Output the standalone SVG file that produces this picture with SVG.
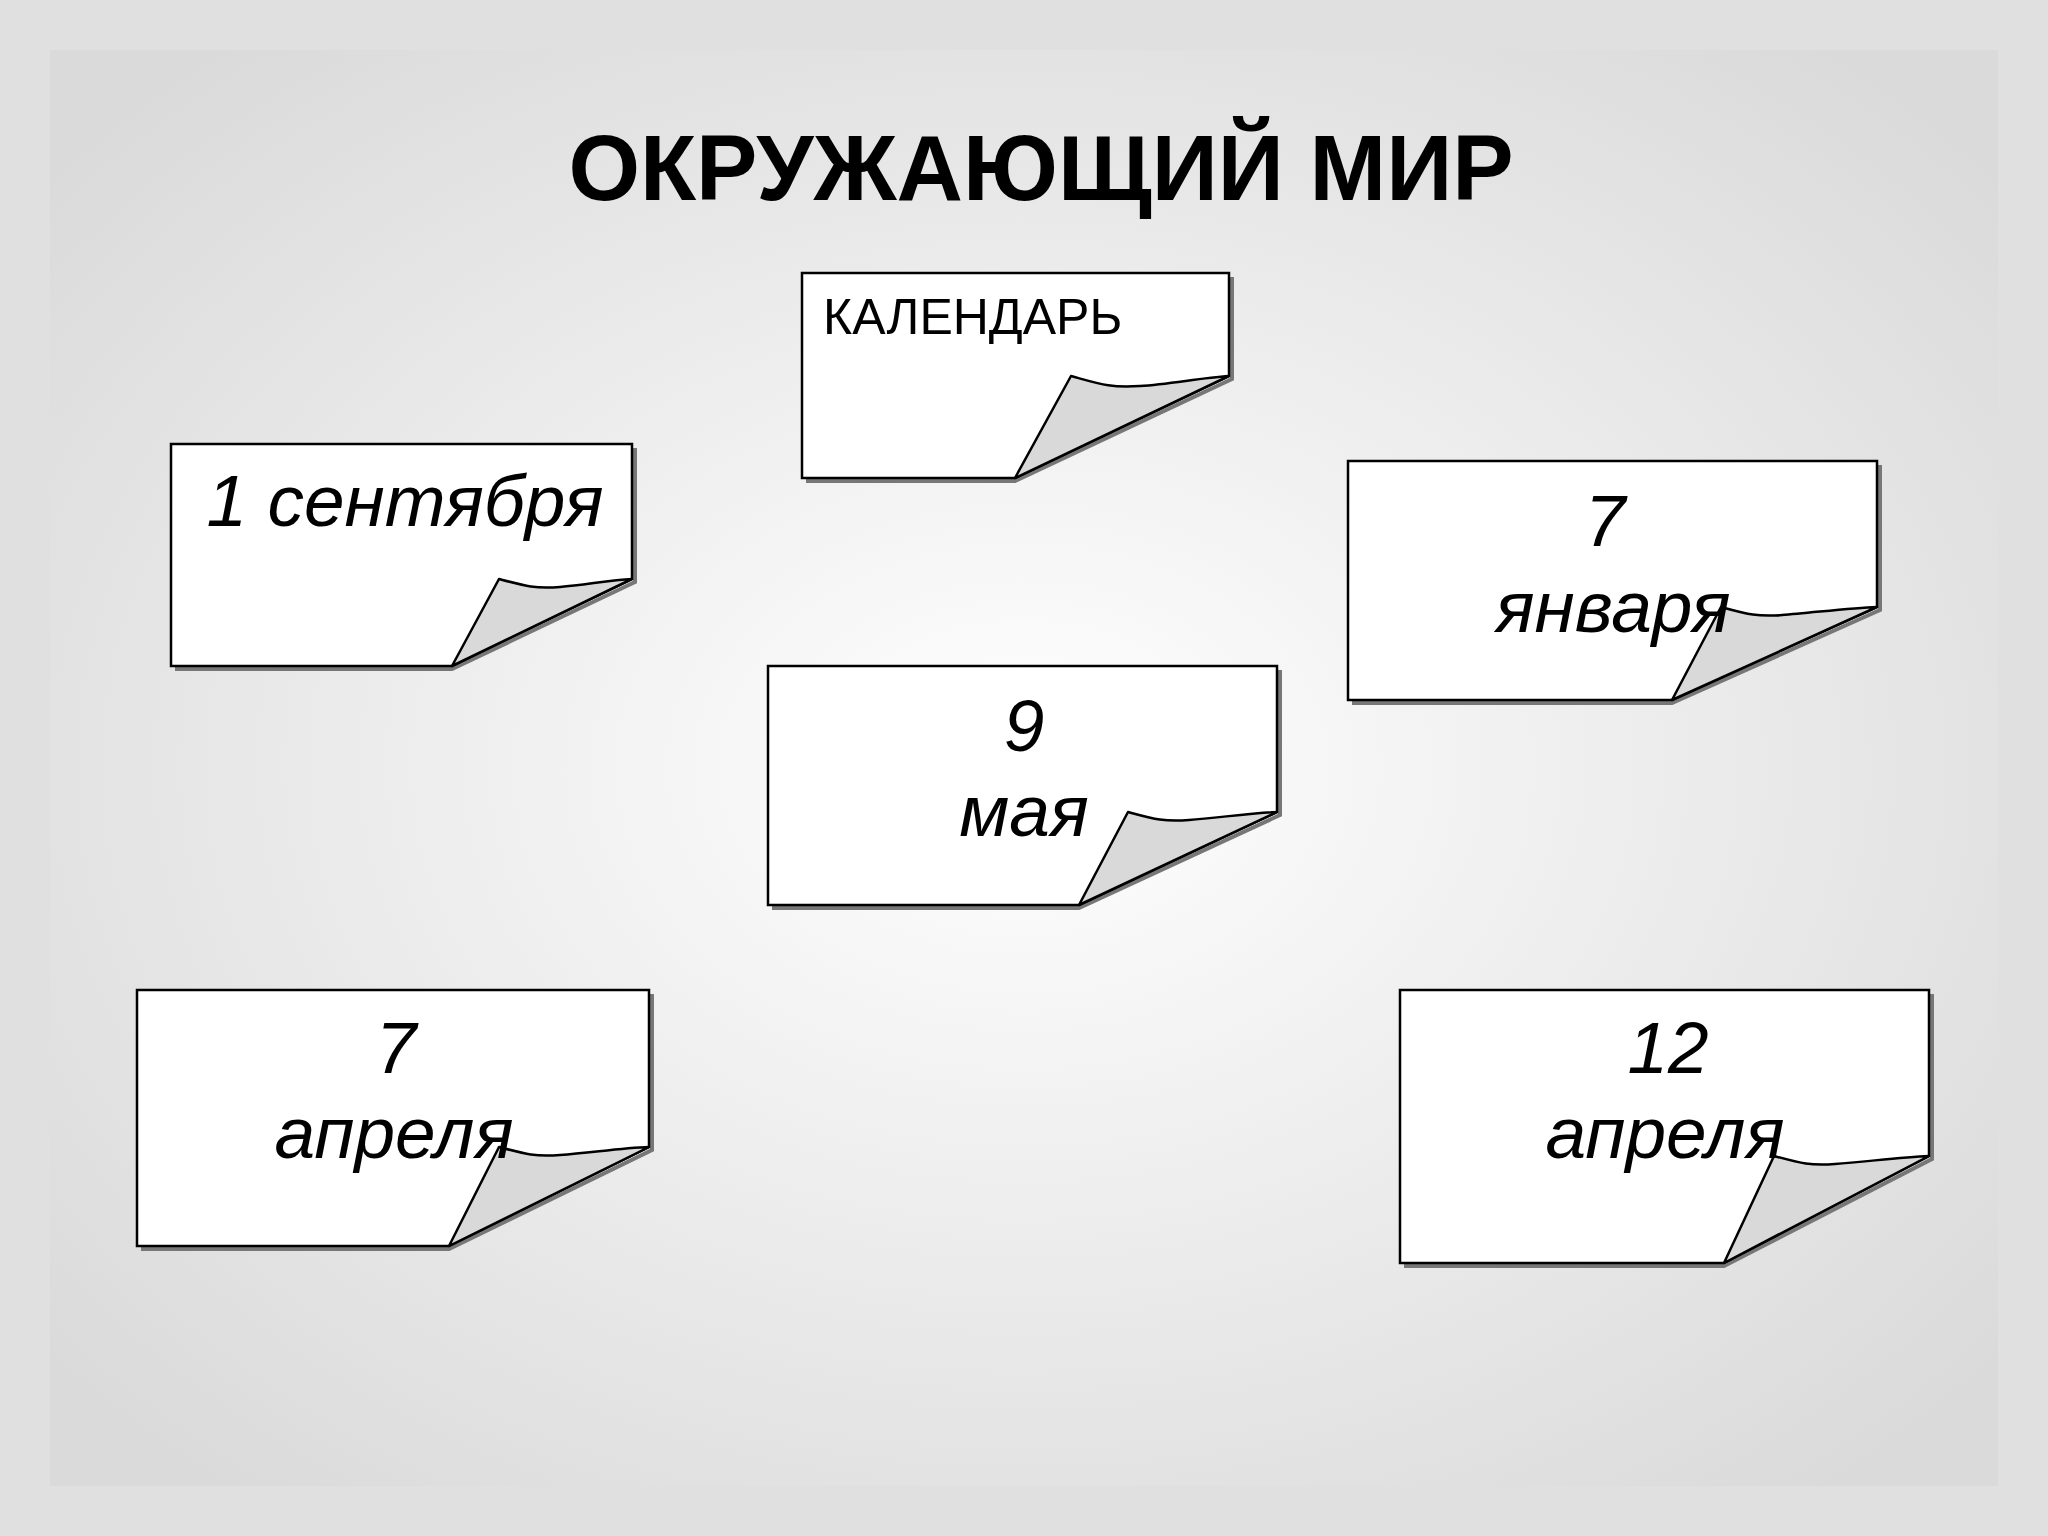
<svg xmlns="http://www.w3.org/2000/svg" width="2048" height="1536" viewBox="0 0 2048 1536">
<defs>
<radialGradient id="bg" cx="0.5" cy="0.5" r="0.65">
<stop offset="0" stop-color="#ffffff"/><stop offset="1" stop-color="#dadada"/>
</radialGradient>
</defs>
<style>
.pg{fill:#fff;stroke:#000;stroke-width:2.5}
.sh{fill:none;stroke:#777;stroke-width:4}
.fold{fill:#d9d9d9;stroke:#000;stroke-width:2.5;stroke-linejoin:round}
.d{font-family:"Liberation Sans",Arial,sans-serif;font-style:italic;font-size:73px;text-anchor:middle}
</style>
<rect width="2048" height="1536" fill="#e0e0e0"/>
<rect x="50" y="50" width="1948" height="1436" fill="url(#bg)"/>
<text x="1041" y="200" font-family="Liberation Sans,Arial,sans-serif" font-weight="bold" font-size="92" text-anchor="middle">ОКРУЖАЮЩИЙ МИР</text>
<g id="n-cal">
<path class="sh" d="M806 481 H1015 L1232 379 V277"/>
<path class="pg" d="M802 273 H1229 V376 L1015 478 H802 Z"/>
<path class="fold" d="M1015 478 L1071 376 C1100 384 1110 388 1140 386 C1170 384 1200 378 1229 376 Z"/>
<text x="823" y="334" font-family="Liberation Sans,Arial,sans-serif" font-size="50">КАЛЕНДАРЬ</text>
</g>
<g id="n-sep">
<path class="sh" d="M175 669 H452 L635 582 V448"/>
<path class="pg" d="M171 444 H632 V579 L452 666 H171 Z"/>
<path class="fold" d="M452 666 L499 579 C525 586 535 589 560 587 C585 585 610 580 632 579 Z"/>
<text class="d" x="405" y="526">1 сентября</text>
</g>
<g id="n-jan">
<path class="sh" d="M1352 703 H1672 L1880 610 V465"/>
<path class="pg" d="M1348 461 H1877 V607 L1672 700 H1348 Z"/>
<path class="fold" d="M1672 700 L1721 607 C1747 614 1757 617 1782 615 C1810 613 1850 608 1877 607 Z"/>
<text class="d" x="1605" y="546">7</text>
<text class="d" x="1613" y="632">января</text>
</g>
<g id="n-may">
<path class="sh" d="M772 908 H1079 L1280 815 V670"/>
<path class="pg" d="M768 666 H1277 V812 L1079 905 H768 Z"/>
<path class="fold" d="M1079 905 L1128 812 C1154 819 1164 822 1189 820 C1217 818 1250 813 1277 812 Z"/>
<text class="d" x="1024" y="751">9</text>
<text class="d" x="1024" y="836">мая</text>
</g>
<g id="n-apr7">
<path class="sh" d="M141 1249 H449 L652 1150 V994"/>
<path class="pg" d="M137 990 H649 V1147 L449 1246 H137 Z"/>
<path class="fold" d="M449 1246 L499 1147 C525 1154 535 1157 560 1155 C590 1153 620 1148 649 1147 Z"/>
<text class="d" x="396" y="1073">7</text>
<text class="d" x="394" y="1158">апреля</text>
</g>
<g id="n-apr12">
<path class="sh" d="M1404 1266 H1724 L1932 1159 V994"/>
<path class="pg" d="M1400 990 H1929 V1156 L1724 1263 H1400 Z"/>
<path class="fold" d="M1724 1263 L1774 1156 C1800 1163 1810 1166 1835 1164 C1865 1162 1900 1157 1929 1156 Z"/>
<text class="d" x="1668" y="1073">12</text>
<text class="d" x="1665" y="1158">апреля</text>
</g>
<g id="connectors"/>
</svg>
